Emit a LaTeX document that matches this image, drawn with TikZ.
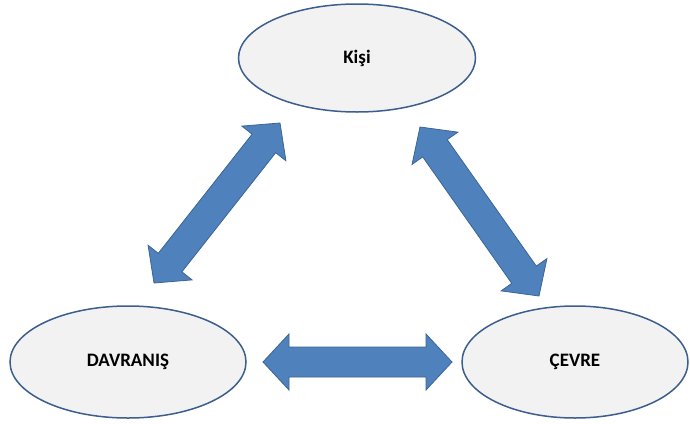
\documentclass[tikz,border=0pt]{standalone}
\usepackage{fontspec}
\setmainfont{Carlito}
\usetikzlibrary{shapes.geometric,calc}

\definecolor{ovalfill}{HTML}{F2F2F2}
\definecolor{ovalline}{HTML}{3B5E8C}
\definecolor{arrowfill}{HTML}{4F81BD}
\definecolor{arrowline}{HTML}{3A6595}

\tikzset{
  oval/.style={ellipse, draw=ovalline, fill=ovalfill, line width=1.5pt,
    inner sep=0pt, font=\fontsize{19}{23}\selectfont\bfseries},
  blockarrow/.style={draw=arrowline, fill=arrowfill, line width=0.8pt, line join=miter}
}

% thick double headed block arrow between two named points
\newcommand{\dblarrow}[2]{%
  \draw[blockarrow] (#1)
    -- ($(#1)!26pt!(#2)!28pt!90:(#2)$)
    -- ($(#1)!26pt!(#2)!15pt!90:(#2)$)
    -- ($(#2)!26pt!(#1)!15pt!-90:(#1)$)
    -- ($(#2)!26pt!(#1)!28pt!-90:(#1)$)
    -- (#2)
    -- ($(#2)!26pt!(#1)!28pt!90:(#1)$)
    -- ($(#2)!26pt!(#1)!15pt!90:(#1)$)
    -- ($(#1)!26pt!(#2)!15pt!-90:(#2)$)
    -- ($(#1)!26pt!(#2)!28pt!-90:(#2)$)
    -- cycle;}

\begin{document}
\begin{tikzpicture}[x=1pt,y=-1pt]
  \fill[white] (0,0) rectangle (690,423);
  \useasboundingbox (0,0) rectangle (690,423);

  % ovals
  \node (kisi) [oval, minimum width=237pt, minimum height=108pt] at (357,58) {Kişi};
  \node (davranis) [oval, minimum width=236pt, minimum height=112pt] at (128,362) {DAVRANIŞ};
  \node (cevre) [oval, minimum width=226pt, minimum height=112pt] at (575,362) {ÇEVRE};

  % arrow ends
  \coordinate (kisiL) at (280,123);
  \coordinate (davranisT) at (154,283);
  \coordinate (kisiR) at (420,127);
  \coordinate (cevreT) at (539,296);
  \coordinate (davranisR) at (263,362);
  \coordinate (cevreL) at (452,362);

  \dblarrow{kisiL}{davranisT}
  \dblarrow{kisiR}{cevreT}
  \dblarrow{davranisR}{cevreL}
\end{tikzpicture}
\end{document}
